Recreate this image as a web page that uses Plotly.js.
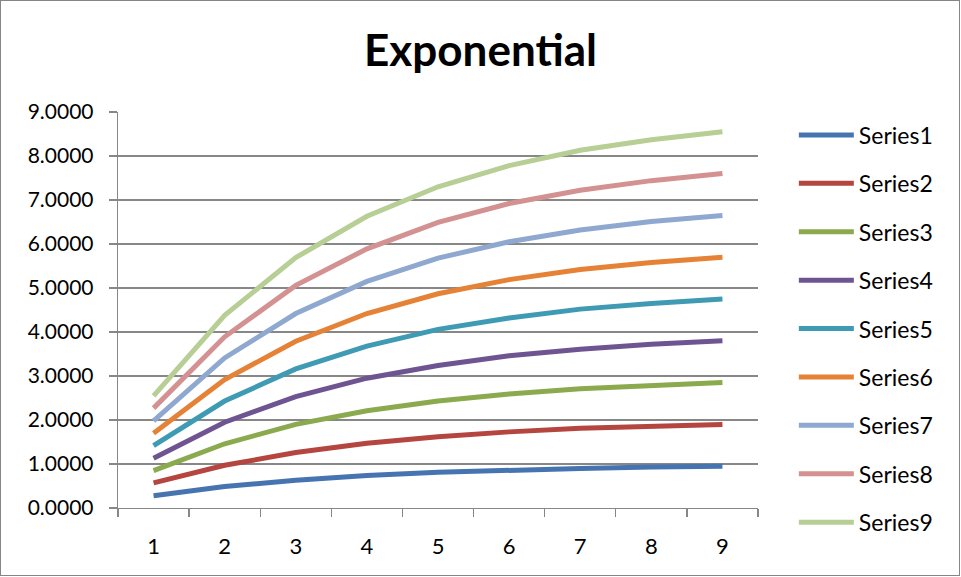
<!DOCTYPE html>
<html>
<head>
<meta charset="utf-8">
<script src="https://cdn.plot.ly/plotly-3.0.1.min.js"></script>
<style>
  html, body { margin: 0; padding: 0; background: #ffffff; }
  #wrap { position: relative; width: 961px; height: 577px; }
  #chart { position: absolute; left: 0; top: 0; width: 961px; height: 577px; }
  #frame { position: absolute; left: 0; top: 0; width: 958px; height: 574px;
           border: 1.5px solid #868686; pointer-events: none; }
</style>
</head>
<body>
<div id="wrap">
  <div id="chart"></div>
  <div id="frame"></div>
</div>
<script>
// Category labels along the x axis
const categories = ['1', '2', '3', '4', '5', '6', '7', '8', '9'];

// Series values
const series1 = [0.28, 0.49, 0.63, 0.74, 0.81, 0.86, 0.90, 0.93, 0.95];
const series2 = [0.57, 0.97, 1.26, 1.47, 1.62, 1.73, 1.81, 1.86, 1.90];
const series3 = [0.85, 1.46, 1.90, 2.21, 2.43, 2.59, 2.71, 2.79, 2.85];
const series4 = [1.13, 1.95, 2.53, 2.95, 3.24, 3.46, 3.61, 3.72, 3.80];
const series5 = [1.42, 2.43, 3.16, 3.68, 4.06, 4.32, 4.52, 4.65, 4.75];
const series6 = [1.70, 2.92, 3.79, 4.42, 4.87, 5.19, 5.42, 5.58, 5.70];
const series7 = [1.98, 3.41, 4.42, 5.15, 5.68, 6.05, 6.32, 6.51, 6.65];
const series8 = [2.27, 3.89, 5.06, 5.89, 6.49, 6.92, 7.22, 7.44, 7.60];
const series9 = [2.55, 4.38, 5.69, 6.63, 7.30, 7.78, 8.13, 8.37, 8.55];

const seriesNames = ['Series1', 'Series2', 'Series3', 'Series4', 'Series5',
                     'Series6', 'Series7', 'Series8', 'Series9'];
const seriesValues = [series1, series2, series3, series4, series5,
                      series6, series7, series8, series9];
const seriesColors = ['#4674B0', '#B4453F', '#8BAA4E', '#6E5591', '#3F9AB3',
                      '#E58236', '#8EA8CF', '#D49191', '#B7CE94'];

const FONT = 'Lato, "Open Sans", sans-serif';
const GRID = '#878787';

const traces = seriesValues.map((vals, i) => ({
  type: 'scatter',
  mode: 'lines',
  name: seriesNames[i],
  legendgroup: 'g' + i,
  x: categories,
  y: vals,
  line: { color: seriesColors[i], width: 5 },
  hoverinfo: 'x+y+name'
}));

const layout = {
  width: 961,
  height: 577,
  paper_bgcolor: '#ffffff',
  plot_bgcolor: '#ffffff',
  margin: { l: 118, r: 203, t: 112, b: 69 },
  font: { family: FONT, color: '#000000', size: 21 },
  title: {
    text: '<b>Exponential</b>',
    font: { family: FONT, size: 44, color: '#000000' },
    x: 0.5, xanchor: 'center', xref: 'container',
    y: 1 - 51 / 577, yanchor: 'middle', yref: 'container'
  },
  xaxis: {
    type: 'category',
    range: [-0.5, 8.5],
    showgrid: false,
    showline: true,
    linecolor: GRID,
    linewidth: 1.3,
    ticks: 'outside',
    tickson: 'boundaries',
    ticklen: 8,
    tickcolor: GRID,
    tickwidth: 1.3,
    ticklabelstandoff: 18,
    tickfont: { family: FONT, size: 22, color: '#000000' },
    zeroline: false,
    fixedrange: true
  },
  yaxis: {
    range: [0, 9],
    dtick: 1,
    tick0: 0,
    tickformat: '.4f',
    showgrid: true,
    gridcolor: GRID,
    gridwidth: 1.3,
    showline: true,
    linecolor: GRID,
    linewidth: 1.3,
    ticks: 'outside',
    ticklen: 8,
    tickcolor: GRID,
    tickwidth: 1.3,
    ticklabelstandoff: 11,
    tickfont: { family: FONT, size: 21, color: '#000000' },
    zeroline: false,
    fixedrange: true
  },
  legend: {
    x: 1.056, xanchor: 'left',
    y: 0.452, yanchor: 'middle',
    font: { family: FONT, size: 23, color: '#000000' },
    itemwidth: 55,
    tracegroupgap: 15.5,
    maxheight: 577,
    bgcolor: 'rgba(0,0,0,0)',
    borderwidth: 0
  },
  showlegend: true
};

Plotly.newPlot('chart', traces, layout, { displayModeBar: false, staticPlot: true });
</script>
</body>
</html>
